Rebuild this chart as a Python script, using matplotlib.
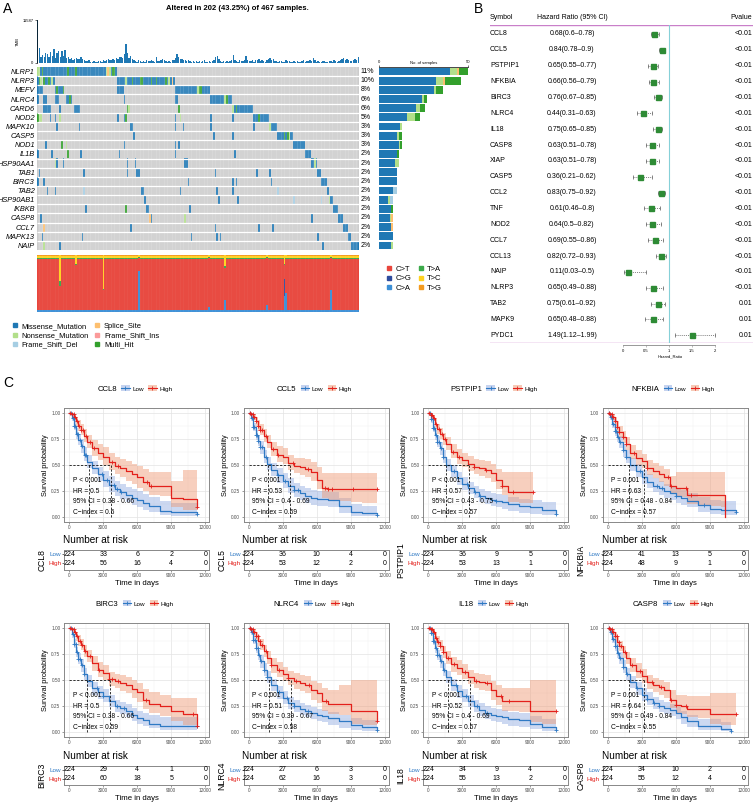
import numpy as np
import matplotlib
matplotlib.use('Agg')
import matplotlib.pyplot as plt
from matplotlib.colors import ListedColormap
from matplotlib.patches import Patch
from matplotlib.lines import Line2D

plt.rcParams['font.family'] = ['Liberation Sans', 'DejaVu Sans']

# ---------------- data: panel A (oncoplot) ----------------
GENES = ['NLRP1', 'NLRP3', 'MEFV', 'NLRC4', 'CARD6', 'NOD2', 'MAPK10', 'CASP5', 'NOD1', 'IL1B',
         'HSP90AA1', 'TAB1', 'BIRC3', 'TAB2', 'HSP90AB1', 'IKBKB', 'CASP8', 'CCL7', 'MAPK13', 'NAIP']
PCT = ['11%', '10%', '8%', '6%', '6%', '5%', '3%', '3%', '3%', '2%',
       '2%', '2%', '2%', '2%', '2%', '2%', '2%', '2%', '2%', '2%']
BLOCK = [50, 36, 22, 14, 13, 10, 5, 10, 7, 4, 4, 2, 4, 1, 3, 3, 3, 3, 2, 5]
EXTRA_COLS = {
    'NLRP3': [0, 1, 2, 4, 5, 6, 7, 8, 9, 10],
    'MEFV': [0, 1, 2, 3, 11, 12, 13, 14, 15, 16, 50, 51, 52, 53],
    'NLRC4': [0, 4, 5, 11, 12, 13, 18, 19, 20, 21, 54, 86, 87],
    'CARD6': [4, 5, 6, 7, 8, 14, 23, 24, 25, 26, 56, 57, 88],
    'NOD2': [0, 1, 2, 8, 11, 14, 50, 54, 55, 86, 89, 108, 122],
    'MAPK10': [12, 26, 58, 59, 86, 91, 108, 135],
    'CASP5': [60, 110, 122],
    'NOD1': [5, 15, 18, 54, 86, 88],
    'IL1B': [0, 9, 19, 27, 51, 86, 123],
    'HSP90AA1': [11, 12, 16, 56, 61, 92, 93],
    'TAB1': [1, 29, 56, 62, 63, 111, 137, 145],
    'BIRC3': [0, 4, 94, 122, 124, 146],
    'TAB2': [6, 11, 29, 65, 66, 89, 112, 122, 150],
    'HSP90AB1': [67, 113, 125, 160, 177],
    'IKBKB': [30, 55, 68, 69, 95],
    'CASP8': [2, 70, 71, 92, 171],
    'CCL7': [4, 58, 111, 138, 147],
    'MAPK13': [3, 28, 96, 112, 114, 175],
    'NAIP': [4, 14, 178],
}
NONSENSE = {'NLRP1': [0, 1, 43, 45], 'NLRP3': [2, 9, 55, 82], 'MEFV': [100], 'NLRC4': [117],
            'CARD6': [57, 122], 'NOD2': [1, 2, 14, 89], 'MAPK10': [145], 'CASP5': [157],
            'NOD1': [18], 'HSP90AA1': [11, 173], 'HSP90AB1': [182], 'CASP8': [92], 'NAIP': [4]}
FS_DEL = {'TAB2': [29, 150], 'HSP90AB1': [160, 177]}
SPLICE = {'NLRP1': [44], 'NLRP3': [84], 'CASP8': [70], 'CCL7': [4]}
MULTI_HIT = {'NLRP1': [3, 19, 24, 47, 48], 'NLRP3': [1, 4, 7, 59, 64, 65, 71, 74, 80],
             'MEFV': [12, 16, 101, 102], 'NLRC4': [20, 118], 'CARD6': [56, 88, 124],
             'NOD2': [0, 55, 138], 'CASP5': [154, 156], 'NOD1': [15], 'IL1B': [19], 'IKBKB': [55]}

TMB = [11587, 4000, 1700, 2200, 1500, 2700, 2300, 1600, 2900, 1900,
       3700, 1400, 2600, 3200, 1600, 3100, 2000, 3400, 1300, 1700,
       1000, 1400, 900, 1200, 1400, 1100, 1200, 1500, 1100, 800,
       600, 500, 700, 400, 300, 500, 400, 300, 500, 600,
       400, 700, 500, 800, 1200, 900, 700, 1000, 800, 1400,
       1200, 1500, 1700, 1300, 2300, 5200, 2700, 1300, 1800, 1200,
       700, 500, 400, 800, 600, 400, 500, 300, 700, 600,
       500, 800, 600, 400, 1500, 600, 500, 800, 1100, 900,
       600, 400, 500, 300, 700, 900, 1400, 2400, 1500, 1000,
       1200, 800, 700, 600, 900, 500, 400, 600, 300, 500,
       400, 600, 300, 500, 700, 400, 300, 500, 400, 600,
       700, 1600, 1900, 1200, 500, 400, 600, 300, 500, 400,
       600, 900, 2100, 800, 500, 400, 700, 600, 500, 900,
       2000, 700, 500, 600, 800, 400, 900, 700, 1000, 600,
       800, 500, 400, 700, 1100, 1300, 900, 1000, 600, 500,
       400, 600, 500, 300, 400, 700, 500, 600, 400, 300,
       500, 400, 600, 300, 400, 500, 700, 400, 600, 500,
       800, 600, 1300, 700, 400, 500, 300, 400, 600, 500,
       400, 300, 500, 600, 400, 700, 500, 400, 600, 800,
       1000, 1300, 900, 1200, 700, 600, 500, 800, 1100, 900,
       1500]

TITV_CLASSES = ['C>A', 'C>G', 'C>T', 'T>A', 'T>C', 'T>G']
TITV_DEFAULT = [0.03, 0.005, 0.895, 0.02, 0.04, 0.01]
TITV_SPECIAL = {
    14: [0.03, 0.0, 0.42, 0.10, 0.45, 0.0],
    24: [0.03, 0.0, 0.80, 0.02, 0.15, 0.0],
    41: [0.03, 0.0, 0.35, 0.02, 0.60, 0.0],
    63: [0.72, 0.0, 0.23, 0.02, 0.03, 0.0],
    107: [0.09, 0.0, 0.85, 0.02, 0.04, 0.0],
    117: [0.21, 0.0, 0.57, 0.02, 0.20, 0.0],
    143: [0.12, 0.0, 0.82, 0.02, 0.04, 0.0],
    154: [0.28, 0.30, 0.25, 0.02, 0.15, 0.0],
    155: [0.33, 0.0, 0.60, 0.02, 0.05, 0.0],
    183: [0.39, 0.0, 0.55, 0.02, 0.04, 0.0],
}

# ---------------- data: panel B (forest) ----------------
FOREST_GENES = ['CCL8', 'CCL5', 'PSTPIP1', 'NFKBIA', 'BIRC3', 'NLRC4', 'IL18', 'CASP8', 'XIAP', 'CASP5',
                'CCL2', 'TNF', 'NOD2', 'CCL7', 'CCL13', 'NAIP', 'NLRP3', 'TAB2', 'MAPK9', 'PYDC1']
HR = [0.68, 0.84, 0.65, 0.66, 0.76, 0.44, 0.75, 0.63, 0.63, 0.36,
      0.83, 0.61, 0.64, 0.69, 0.82, 0.11, 0.65, 0.75, 0.65, 1.49]
HR_LO = [0.6, 0.78, 0.55, 0.56, 0.67, 0.31, 0.65, 0.51, 0.51, 0.21,
         0.75, 0.46, 0.5, 0.55, 0.72, 0.03, 0.49, 0.61, 0.48, 1.12]
HR_HI = [0.78, 0.9, 0.77, 0.79, 0.85, 0.63, 0.85, 0.78, 0.78, 0.62,
         0.92, 0.8, 0.82, 0.86, 0.93, 0.5, 0.88, 0.92, 0.88, 1.99]
PVAL = ['<0.01'] * 17 + ['0.01', '0.01', '0.01']

# ---------------- data: panel C (Kaplan-Meier) ----------------
KM_GENES = ['CCL8', 'CCL5', 'PSTPIP1', 'NFKBIA', 'BIRC3', 'NLRC4', 'IL18', 'CASP8']
T_GRID = [0, 200, 400, 600, 800, 1000, 1300, 1600, 2000, 2500, 3000,
          3500, 4000, 4500, 5000, 5500, 6000, 6500, 7000, 8000, 9000, 10000]

SURV_LOW = {
    'CCL8': [1.0, 0.95, 0.88, 0.80, 0.74, 0.68, 0.60, 0.53, 0.47, 0.41, 0.36, 0.31, 0.27, 0.24, 0.21, 0.18, 0.16, 0.13, 0.10, 0.06, 0.05, 0.05],
    'CCL5': [1.0, 0.95, 0.87, 0.79, 0.73, 0.67, 0.58, 0.51, 0.45, 0.40, 0.35, 0.30, 0.26, 0.23, 0.20, 0.18, 0.17, 0.17, 0.16, 0.10, 0.05, 0.04],
    'PSTPIP1': [1.0, 0.94, 0.86, 0.79, 0.72, 0.66, 0.58, 0.50, 0.44, 0.37, 0.32, 0.28, 0.24, 0.20, 0.18, 0.16, 0.15, 0.14, 0.12, 0.10, 0.09, 0.07],
    'NFKBIA': [1.0, 0.96, 0.90, 0.83, 0.77, 0.72, 0.64, 0.58, 0.50, 0.44, 0.38, 0.34, 0.30, 0.28, 0.25, 0.23, 0.20, 0.18, 0.15, 0.11, 0.08, 0.07],
    'BIRC3': [1.0, 0.94, 0.85, 0.77, 0.70, 0.64, 0.56, 0.49, 0.42, 0.38, 0.35, 0.30, 0.25, 0.23, 0.20, 0.16, 0.13, 0.11, 0.08, 0.06, 0.06, 0.06],
    'NLRC4': [1.0, 0.96, 0.89, 0.81, 0.74, 0.68, 0.60, 0.53, 0.45, 0.38, 0.33, 0.28, 0.25, 0.22, 0.20, 0.18, 0.16, 0.15, 0.13, 0.10, 0.07, 0.05],
    'IL18': [1.0, 0.95, 0.88, 0.81, 0.74, 0.68, 0.60, 0.53, 0.45, 0.39, 0.35, 0.30, 0.25, 0.21, 0.18, 0.16, 0.15, 0.14, 0.12, 0.11, 0.08, 0.05],
    'CASP8': [1.0, 0.96, 0.90, 0.83, 0.76, 0.71, 0.63, 0.56, 0.48, 0.42, 0.36, 0.32, 0.28, 0.25, 0.23, 0.21, 0.18, 0.14, 0.10, 0.06, 0.06, 0.03],
}
LO_LOW = {
    'CCL8': [1.0, 0.92, 0.84, 0.75, 0.69, 0.62, 0.54, 0.47, 0.41, 0.35, 0.29, 0.24, 0.20, 0.17, 0.14, 0.11, 0.09, 0.07, 0.05, 0.02, 0.01, 0.01],
    'CCL5': [1.0, 0.92, 0.83, 0.74, 0.68, 0.61, 0.52, 0.45, 0.39, 0.33, 0.28, 0.23, 0.19, 0.16, 0.13, 0.11, 0.10, 0.10, 0.09, 0.04, 0.01, 0.01],
    'PSTPIP1': [1.0, 0.91, 0.82, 0.74, 0.67, 0.60, 0.52, 0.44, 0.38, 0.31, 0.26, 0.22, 0.18, 0.14, 0.12, 0.10, 0.09, 0.08, 0.06, 0.04, 0.03, 0.02],
    'NFKBIA': [1.0, 0.93, 0.86, 0.78, 0.72, 0.66, 0.58, 0.52, 0.44, 0.38, 0.32, 0.28, 0.24, 0.21, 0.18, 0.16, 0.13, 0.11, 0.09, 0.05, 0.03, 0.02],
    'BIRC3': [1.0, 0.91, 0.81, 0.72, 0.65, 0.58, 0.50, 0.43, 0.36, 0.32, 0.29, 0.24, 0.19, 0.17, 0.14, 0.10, 0.08, 0.06, 0.04, 0.02, 0.02, 0.02],
    'NLRC4': [1.0, 0.93, 0.85, 0.76, 0.69, 0.62, 0.54, 0.47, 0.39, 0.32, 0.27, 0.22, 0.19, 0.16, 0.14, 0.12, 0.10, 0.09, 0.07, 0.04, 0.02, 0.01],
    'IL18': [1.0, 0.92, 0.84, 0.76, 0.69, 0.62, 0.54, 0.47, 0.39, 0.33, 0.29, 0.24, 0.19, 0.15, 0.12, 0.10, 0.09, 0.08, 0.06, 0.05, 0.03, 0.01],
    'CASP8': [1.0, 0.93, 0.86, 0.78, 0.71, 0.65, 0.57, 0.50, 0.42, 0.36, 0.30, 0.26, 0.22, 0.19, 0.17, 0.15, 0.12, 0.08, 0.05, 0.02, 0.02, 0.01],
}
HI_LOW = {
    'CCL8': [1.0, 0.98, 0.93, 0.86, 0.80, 0.75, 0.67, 0.60, 0.54, 0.48, 0.44, 0.39, 0.35, 0.32, 0.29, 0.27, 0.25, 0.22, 0.19, 0.15, 0.13, 0.13],
    'CCL5': [1.0, 0.98, 0.91, 0.84, 0.79, 0.73, 0.64, 0.58, 0.52, 0.47, 0.42, 0.37, 0.33, 0.30, 0.28, 0.26, 0.25, 0.25, 0.24, 0.18, 0.12, 0.10],
    'PSTPIP1': [1.0, 0.97, 0.90, 0.84, 0.78, 0.72, 0.64, 0.56, 0.50, 0.43, 0.38, 0.34, 0.30, 0.27, 0.25, 0.23, 0.22, 0.21, 0.19, 0.17, 0.16, 0.14],
    'NFKBIA': [1.0, 0.99, 0.94, 0.88, 0.82, 0.78, 0.70, 0.64, 0.57, 0.51, 0.45, 0.41, 0.37, 0.35, 0.32, 0.30, 0.28, 0.26, 0.23, 0.19, 0.16, 0.15],
    'BIRC3': [1.0, 0.97, 0.90, 0.82, 0.76, 0.70, 0.62, 0.55, 0.48, 0.44, 0.41, 0.36, 0.31, 0.29, 0.27, 0.23, 0.20, 0.18, 0.16, 0.14, 0.14, 0.14],
    'NLRC4': [1.0, 0.99, 0.93, 0.86, 0.79, 0.74, 0.66, 0.59, 0.51, 0.44, 0.39, 0.34, 0.31, 0.28, 0.26, 0.24, 0.22, 0.21, 0.19, 0.16, 0.13, 0.11],
    'IL18': [1.0, 0.98, 0.92, 0.86, 0.79, 0.74, 0.66, 0.59, 0.51, 0.45, 0.41, 0.36, 0.31, 0.28, 0.25, 0.23, 0.22, 0.21, 0.19, 0.18, 0.15, 0.12],
    'CASP8': [1.0, 0.99, 0.94, 0.88, 0.81, 0.77, 0.69, 0.62, 0.54, 0.48, 0.42, 0.38, 0.34, 0.31, 0.29, 0.27, 0.24, 0.20, 0.16, 0.12, 0.12, 0.09],
}
SURV_HIGH = {
    'CCL8': [1.0, 0.99, 0.96, 0.92, 0.88, 0.84, 0.78, 0.72, 0.66, 0.62, 0.58, 0.53, 0.49, 0.47, 0.44, 0.41, 0.38, 0.34, 0.30, 0.30, 0.18, 0.17],
    'CCL5': [1.0, 0.99, 0.96, 0.92, 0.88, 0.84, 0.78, 0.72, 0.65, 0.60, 0.58, 0.52, 0.49, 0.48, 0.46, 0.43, 0.36, 0.28, 0.27, 0.27, 0.27, 0.27],
    'PSTPIP1': [1.0, 0.98, 0.95, 0.90, 0.85, 0.80, 0.75, 0.70, 0.63, 0.58, 0.55, 0.51, 0.48, 0.47, 0.45, 0.42, 0.36, 0.30, 0.24, 0.24, 0.24, 0.24],
    'NFKBIA': [1.0, 0.99, 0.96, 0.92, 0.87, 0.82, 0.77, 0.70, 0.62, 0.57, 0.54, 0.47, 0.44, 0.41, 0.38, 0.30, 0.28, 0.28, 0.21, 0.21, 0.21, 0.21],
    'BIRC3': [1.0, 0.99, 0.96, 0.92, 0.88, 0.84, 0.78, 0.73, 0.66, 0.60, 0.57, 0.51, 0.49, 0.47, 0.45, 0.41, 0.38, 0.31, 0.27, 0.25, 0.20, 0.17],
    'NLRC4': [1.0, 0.99, 0.96, 0.92, 0.88, 0.84, 0.78, 0.71, 0.64, 0.60, 0.56, 0.52, 0.49, 0.47, 0.45, 0.40, 0.37, 0.30, 0.27, 0.27, 0.20, 0.20],
    'IL18': [1.0, 0.99, 0.96, 0.91, 0.87, 0.83, 0.77, 0.71, 0.65, 0.62, 0.58, 0.53, 0.49, 0.48, 0.47, 0.40, 0.35, 0.30, 0.30, 0.30, 0.20, 0.20],
    'CASP8': [1.0, 0.99, 0.96, 0.92, 0.87, 0.83, 0.77, 0.71, 0.64, 0.59, 0.54, 0.48, 0.45, 0.43, 0.40, 0.31, 0.26, 0.25, 0.22, 0.22, 0.17, 0.17],
}
LO_HIGH = {
    'CCL8': [1.0, 0.97, 0.93, 0.88, 0.83, 0.79, 0.72, 0.66, 0.59, 0.55, 0.50, 0.45, 0.41, 0.38, 0.35, 0.32, 0.28, 0.25, 0.21, 0.20, 0.09, 0.07],
    'CCL5': [1.0, 0.97, 0.93, 0.88, 0.83, 0.79, 0.72, 0.66, 0.59, 0.53, 0.51, 0.45, 0.42, 0.40, 0.38, 0.35, 0.27, 0.18, 0.16, 0.15, 0.14, 0.13],
    'PSTPIP1': [1.0, 0.96, 0.92, 0.86, 0.80, 0.75, 0.69, 0.64, 0.57, 0.51, 0.48, 0.44, 0.41, 0.39, 0.37, 0.34, 0.27, 0.21, 0.14, 0.13, 0.13, 0.13],
    'NFKBIA': [1.0, 0.97, 0.93, 0.88, 0.82, 0.77, 0.71, 0.64, 0.56, 0.50, 0.47, 0.40, 0.37, 0.34, 0.30, 0.22, 0.19, 0.19, 0.12, 0.11, 0.10, 0.09],
    'BIRC3': [1.0, 0.97, 0.93, 0.88, 0.83, 0.79, 0.72, 0.67, 0.59, 0.53, 0.50, 0.44, 0.42, 0.39, 0.37, 0.33, 0.29, 0.22, 0.18, 0.15, 0.10, 0.07],
    'NLRC4': [1.0, 0.97, 0.93, 0.88, 0.83, 0.79, 0.72, 0.65, 0.57, 0.53, 0.49, 0.45, 0.41, 0.39, 0.37, 0.31, 0.28, 0.20, 0.17, 0.16, 0.08, 0.07],
    'IL18': [1.0, 0.97, 0.93, 0.87, 0.82, 0.78, 0.71, 0.65, 0.58, 0.55, 0.51, 0.46, 0.42, 0.40, 0.39, 0.31, 0.26, 0.20, 0.20, 0.19, 0.09, 0.08],
    'CASP8': [1.0, 0.97, 0.93, 0.88, 0.82, 0.78, 0.71, 0.65, 0.58, 0.52, 0.47, 0.41, 0.38, 0.36, 0.33, 0.23, 0.18, 0.17, 0.14, 0.13, 0.08, 0.07],
}
HI_HIGH = {
    'CCL8': [1.0, 1.0, 0.99, 0.96, 0.93, 0.90, 0.85, 0.79, 0.74, 0.70, 0.67, 0.62, 0.58, 0.56, 0.54, 0.51, 0.49, 0.46, 0.43, 0.43, 0.35, 0.45],
    'CCL5': [1.0, 1.0, 0.99, 0.96, 0.93, 0.90, 0.85, 0.79, 0.72, 0.68, 0.66, 0.60, 0.57, 0.57, 0.56, 0.53, 0.48, 0.42, 0.42, 0.42, 0.42, 0.42],
    'PSTPIP1': [1.0, 1.0, 0.98, 0.94, 0.90, 0.86, 0.81, 0.77, 0.70, 0.65, 0.62, 0.59, 0.56, 0.55, 0.54, 0.51, 0.46, 0.43, 0.43, 0.43, 0.43, 0.43],
    'NFKBIA': [1.0, 1.0, 0.99, 0.96, 0.92, 0.88, 0.83, 0.77, 0.69, 0.64, 0.61, 0.55, 0.52, 0.49, 0.46, 0.39, 0.43, 0.43, 0.43, 0.43, 0.43, 0.43],
    'BIRC3': [1.0, 1.0, 0.99, 0.96, 0.93, 0.90, 0.84, 0.79, 0.73, 0.67, 0.64, 0.58, 0.56, 0.55, 0.53, 0.50, 0.47, 0.41, 0.38, 0.36, 0.33, 0.33],
    'NLRC4': [1.0, 1.0, 0.99, 0.96, 0.93, 0.90, 0.84, 0.78, 0.71, 0.67, 0.63, 0.59, 0.57, 0.55, 0.54, 0.49, 0.47, 0.42, 0.40, 0.45, 0.50, 0.50],
    'IL18': [1.0, 1.0, 0.99, 0.95, 0.92, 0.89, 0.83, 0.78, 0.72, 0.69, 0.65, 0.60, 0.57, 0.56, 0.55, 0.49, 0.45, 0.42, 0.42, 0.42, 0.50, 0.50],
    'CASP8': [1.0, 1.0, 0.99, 0.96, 0.92, 0.88, 0.83, 0.77, 0.71, 0.66, 0.61, 0.55, 0.52, 0.50, 0.48, 0.40, 0.36, 0.36, 0.35, 0.35, 0.37, 0.37],
}
END_LOW = {'CCL8': (11300, 0.03), 'CCL5': (11300, 0.02), 'PSTPIP1': (11300, 0.03), 'NFKBIA': (11300, 0.05),
           'BIRC3': (11300, 0.06), 'NLRC4': (11300, 0.02), 'IL18': (11300, 0.02), 'CASP8': (10900, 0.01)}
END_HIGH = {'CCL8': (11300, 0.09), 'CCL5': (11300, 0.27), 'PSTPIP1': (9200, 0.24), 'NFKBIA': (10300, 0.0),
            'BIRC3': (11300, 0.06), 'NLRC4': (11300, 0.10), 'IL18': (11300, 0.20), 'CASP8': (11300, 0.17)}
CENSOR_LOW = {
    'CCL8': [150, 300, 420, 520, 650, 780, 900, 1100, 1350, 1500, 2900, 3300, 3900, 4200, 4600, 11300],
    'CCL5': [120, 260, 400, 480, 600, 700, 850, 1000, 1200, 1500, 2600, 3200, 4000, 4300, 11300],
    'PSTPIP1': [130, 280, 400, 520, 650, 800, 950, 1100, 1300, 2300, 3400, 4100, 4600, 6000, 11300],
    'NFKBIA': [110, 250, 380, 500, 620, 760, 900, 1100, 1300, 1600, 2800, 4300, 4800, 6000, 8500, 11300],
    'BIRC3': [150, 300, 420, 550, 680, 800, 950, 1100, 1300, 2400, 3000, 4200, 4800, 11300],
    'NLRC4': [120, 260, 400, 520, 640, 780, 920, 1100, 1300, 1600, 2700, 3400, 4000, 5200, 11300],
    'IL18': [130, 270, 400, 530, 660, 800, 950, 1100, 1400, 2400, 3300, 4300, 5200, 11300],
    'CASP8': [120, 250, 380, 500, 630, 770, 900, 1100, 1300, 1700, 2600, 3500, 4100, 4500, 10900],
}
CENSOR_HIGH = {
    'CCL8': [100, 250, 380, 500, 700, 850, 1000, 1250, 1500, 1800, 2200, 3800, 4300, 6900, 7200, 11300],
    'CCL5': [100, 200, 350, 480, 650, 800, 1000, 1200, 1500, 2100, 2600, 3900, 5200, 6700, 7000, 7300, 9200, 11300],
    'PSTPIP1': [90, 220, 350, 500, 700, 900, 1200, 1500, 2200, 2700, 4000, 5100, 6500, 7500, 9200],
    'NFKBIA': [80, 200, 330, 470, 600, 800, 1000, 1300, 1600, 2300, 3500, 5300, 5600, 6900, 7300],
    'BIRC3': [100, 230, 380, 500, 700, 900, 1100, 1400, 1800, 2600, 3500, 3800, 4300, 6800, 10900, 11300],
    'NLRC4': [90, 210, 340, 480, 620, 780, 950, 1200, 1500, 2000, 2700, 3500, 4200, 5300, 6800, 11300],
    'IL18': [100, 220, 360, 500, 680, 850, 1050, 1300, 1700, 2300, 3200, 4200, 5200, 6400, 7100, 11300],
    'CASP8': [80, 200, 340, 480, 620, 780, 950, 1200, 1500, 2100, 2800, 3900, 4700, 5600, 6000, 6900, 11300],
}
MEDIAN_LOW = {'CCL8': 1750, 'CCL5': 1650, 'PSTPIP1': 1600, 'NFKBIA': 1900,
              'BIRC3': 1550, 'NLRC4': 1750, 'IL18': 1750, 'CASP8': 1850}
MEDIAN_HIGH = {'CCL8': 3700, 'CCL5': 3600, 'PSTPIP1': 3600, 'NFKBIA': 3200,
               'BIRC3': 3600, 'NLRC4': 3700, 'IL18': 3700, 'CASP8': 3200}
P_TEXT = ['P < 0.001', 'P < 0.001', 'P < 0.001', 'P = 0.001', 'P < 0.001', 'P < 0.001', 'P < 0.001', 'P = 0.001']
HR_TEXT = ['0.5', '0.53', '0.57', '0.63', '0.5', '0.51', '0.52', '0.64']
CI_TEXT = ['0.38 - 0.66', '0.4 - 0.69', '0.43 - 0.75', '0.48 - 0.84',
           '0.38 - 0.66', '0.39 - 0.67', '0.4 - 0.69', '0.49 - 0.84']
CINDEX_TEXT = ['0.6', '0.59', '0.57', '0.57', '0.59', '0.58', '0.57', '0.55']
RISK_TIMES = [0, 3000, 6000, 9000, 12000]
RISK_LOW = {'CCL8': [224, 33, 6, 2, 0], 'CCL5': [224, 36, 10, 4, 0], 'PSTPIP1': [224, 36, 9, 5, 0],
            'NFKBIA': [224, 41, 13, 5, 0], 'BIRC3': [224, 29, 4, 1, 0], 'NLRC4': [224, 27, 6, 3, 0],
            'IL18': [224, 34, 9, 4, 0], 'CASP8': [224, 34, 10, 2, 0]}
RISK_HIGH = {'CCL8': [224, 56, 16, 4, 0], 'CCL5': [224, 53, 12, 2, 0], 'PSTPIP1': [224, 53, 13, 1, 0],
             'NFKBIA': [224, 48, 9, 1, 0], 'BIRC3': [224, 60, 18, 5, 0], 'NLRC4': [224, 62, 16, 3, 0],
             'IL18': [224, 55, 13, 2, 0], 'CASP8': [224, 55, 12, 4, 0]}

# ---------------- styles ----------------
VC_NAMES = ['Missense_Mutation', 'Nonsense_Mutation', 'Frame_Shift_Del', 'Splice_Site', 'Frame_Shift_Ins', 'Multi_Hit']
VC_COLORS = ['#1F78B4', '#B2DF8A', '#A6CEE3', '#FDBF6F', '#FB9A99', '#33A02C']
TITV_COLORS = ['#3C8FD6', '#2E4C9E', '#E8453C', '#3BAA4A', '#FFD21F', '#F39A1E']
LOW_COL, HIGH_COL = '#2F79C4', '#E3201B'
LOW_FILL, HIGH_FILL = '#8FA9E0', '#EE9670'

W, H = 753, 806
fig = plt.figure(figsize=(W / 100, H / 100), dpi=100)


def px_axes(left, top, width, height):
    return fig.add_axes([left / W, 1 - (top + height) / H, width / W, height / H])


def ftext(x, y, s, **kw):
    return fig.text(x / W, 1 - y / H, s, **kw)


ftext(3, 9, 'A', fontsize=10, va='center')
ftext(474, 9, 'B', fontsize=10, va='center')
ftext(3, 383, 'C', fontsize=10, va='center')

# ================= Panel A =================
N = sum(BLOCK)
mat = np.zeros((len(GENES), N), dtype=int)
start = 0
for r, g in enumerate(GENES):
    mat[r, start:start + BLOCK[r]] = 1
    start += BLOCK[r]
    for c in EXTRA_COLS.get(g, []):
        mat[r, c] = 1
    for code, d in [(2, NONSENSE), (3, FS_DEL), (4, SPLICE), (6, MULTI_HIT)]:
        for c in d.get(g, []):
            mat[r, c] = code

ftext(237, 8, 'Altered in 202 (43.25%) of 467 samples.', fontsize=5.5, fontweight='bold',
      ha='center', va='center')

# TMB bars
ax_tmb = px_axes(37, 20, 322, 43)
ax_tmb.bar(np.arange(N) + 0.5, TMB, width=0.85, color=VC_COLORS[0], lw=0)
ax_tmb.set_xlim(0, N)
ax_tmb.set_ylim(0, max(TMB))
ax_tmb.set_xticks([])
ax_tmb.set_yticks([0, max(TMB)], ['0', str(max(TMB))])
ax_tmb.tick_params(axis='y', labelsize=3, length=1.5, width=0.4, pad=1)
ax_tmb.set_ylabel('TMB', fontsize=3, labelpad=2)
for s in ['top', 'right', 'bottom']:
    ax_tmb.spines[s].set_visible(False)
ax_tmb.spines['left'].set_linewidth(0.5)

# mutation matrix
ax_m = px_axes(37, 67, 322, 183)
cmap = ListedColormap(['#CCCCCC'] + VC_COLORS[:1] + [VC_COLORS[1], VC_COLORS[2], VC_COLORS[3], VC_COLORS[4], VC_COLORS[5]])
ax_m.imshow(mat, cmap=cmap, vmin=-0.5, vmax=6.5, aspect='auto', interpolation='nearest',
            extent=(0, N, len(GENES), 0))
ax_m.vlines(np.arange(1, N), 0, len(GENES), color='white', lw=0.25, alpha=0.7)
ax_m.hlines(np.arange(1, len(GENES)), 0, N, color='white', lw=0.9)
ax_m.set_xlim(0, N)
ax_m.set_ylim(len(GENES), 0)
ax_m.set_xticks([])
ax_m.set_yticks(np.arange(len(GENES)) + 0.5, GENES, fontstyle='italic', fontsize=5.3)
ax_m.tick_params(axis='y', length=0, pad=1.5)
for s in ax_m.spines.values():
    s.set_visible(False)
for r, p in enumerate(PCT):
    ax_m.text(N + 0.8, r + 0.5, p, fontsize=5, va='center', ha='left')

# right bar of counts
ax_b = px_axes(379, 67, 89, 183)
counts = np.array([[np.sum(mat[r] == code) for code in [1, 2, 3, 4, 5, 6]] for r in range(len(GENES))])
left = np.zeros(len(GENES))
for k in range(6):
    ax_b.barh(np.arange(len(GENES)) + 0.5, counts[:, k], left=left, height=0.85,
              color=VC_COLORS[k], lw=0)
    left += counts[:, k]
ax_b.set_xlim(0, 50)
ax_b.set_ylim(len(GENES), 0)
ax_b.set_yticks([])
ax_b.xaxis.tick_top()
ax_b.xaxis.set_label_position('top')
ax_b.set_xticks([0, 50])
ax_b.tick_params(axis='x', labelsize=3, length=1.5, width=0.4, pad=1)
ax_b.set_xlabel('No. of samples', fontsize=3, labelpad=-3)
for s in ['bottom', 'left', 'right']:
    ax_b.spines[s].set_visible(False)
ax_b.spines['top'].set_linewidth(0.5)

# Ti/Tv stacked bars
ax_t = px_axes(37, 255, 322, 57)
fracs = np.array([TITV_SPECIAL.get(c, TITV_DEFAULT) for c in range(N)], dtype=float)
fracs = fracs / fracs.sum(axis=1, keepdims=True)
bottom = np.zeros(N)
for k in range(6):
    ax_t.bar(np.arange(N) + 0.5, fracs[:, k], bottom=bottom, width=1.0, color=TITV_COLORS[k], lw=0)
    bottom += fracs[:, k]
ax_t.vlines(np.arange(1, N), 0, 1, color='white', lw=0.15, alpha=0.35)
ax_t.set_xlim(0, N)
ax_t.set_ylim(0, 1)
ax_t.axis('off')

# legends panel A
titv_order = [2, 1, 0, 3, 4, 5]
th = [Line2D([], [], ls='none', marker='s', ms=2.6, color=TITV_COLORS[k]) for k in titv_order]
fig.legend(th, [TITV_CLASSES[k] for k in titv_order], loc='upper left',
           bbox_to_anchor=(383 / W, 1 - 262 / H), ncol=2, frameon=False, fontsize=5.5,
           handlelength=0.6, handletextpad=0.5, columnspacing=1.0, labelspacing=0.25, borderpad=0)
vh = [Line2D([], [], ls='none', marker='s', ms=2.6, color=VC_COLORS[k]) for k in [0, 1, 2, 3, 4, 5]]
fig.legend(vh, VC_NAMES, loc='upper left', bbox_to_anchor=(9 / W, 1 - 319 / H), ncol=2,
           frameon=False, fontsize=5.4, handlelength=0.6, handletextpad=0.6, columnspacing=0.8,
           labelspacing=0.25, borderpad=0)

# ================= Panel B =================
row_px = 15.86
top_px, bot_px = 25, 343
ylim_b = ((bot_px - 34) / row_px, (top_px - 34) / row_px)
ax_tab = px_axes(490, top_px, 263, bot_px - top_px)
ax_tab.set_xlim(0, 1)
ax_tab.set_ylim(*ylim_b)
ax_tab.axis('off')
hdr_y = (18 - 34) / row_px
ax_tab.text(0, hdr_y, 'Symbol', fontsize=5, va='center', ha='left', clip_on=False)
ax_tab.text(0.312, hdr_y, 'Hazard Ratio (95% CI)', fontsize=5, va='center', ha='center', clip_on=False)
ax_tab.text(0.997, hdr_y, 'Pvalue', fontsize=5, va='center', ha='right', clip_on=False)
for i, g in enumerate(FOREST_GENES):
    ax_tab.text(0, i, g, fontsize=5, va='center', ha='left')
    ax_tab.text(0.312, i, f'{HR[i]:g}({HR_LO[i]:g}\u2013{HR_HI[i]:g})', fontsize=5, va='center', ha='center')
    ax_tab.text(0.997, i, PVAL[i], fontsize=5, va='center', ha='right')
ax_tab.axhline(ylim_b[1], color='#C97FC9', lw=1.0)
ax_tab.axhline(ylim_b[0], color='#C97FC9', lw=1.0)

ax_f = px_axes(600, top_px, 140, bot_px - top_px)
ax_f.set_xlim((600 - 623) / 46, (740 - 623) / 46)
ax_f.set_ylim(*ylim_b)
ax_f.patch.set_alpha(0)
ax_f.axvline(1, color='#86D0D8', lw=0.8)
for i in range(len(FOREST_GENES)):
    ax_f.plot([HR_LO[i], HR_HI[i]], [i, i], color='#555555', lw=0.5, ls=(0, (1.5, 1.5)))
    ax_f.plot([HR_LO[i], HR_HI[i]], [i, i], ls='none', marker='|', ms=2.5, mew=0.5, color='#555555')
    ax_f.plot([HR[i]], [i], ls='none', marker='s', ms=3.6, color='#2E8B35')
for s in ['top', 'right', 'left']:
    ax_f.spines[s].set_visible(False)
ax_f.spines['bottom'].set_bounds(0, 2)
ax_f.spines['bottom'].set_color('#888888')
ax_f.spines['bottom'].set_linewidth(0.6)
ax_f.spines['bottom'].set_position(('outward', 1.5))
ax_f.set_yticks([])
ax_f.set_xticks([0, 0.5, 1, 1.5, 2], ['0', '0.5', '1', '1.5', '2'])
ax_f.tick_params(axis='x', labelsize=3, length=1.5, width=0.4, pad=1, color='#888888')
ax_f.set_xlabel('Hazard_Ratio', fontsize=3, labelpad=1)

# ================= Panel C =================


def km_curve(vals, end):
    t = [x for x in T_GRID if x < end[0]] + [end[0]]
    s = list(vals[:len(t) - 1]) + [end[1]]
    return np.array(t, dtype=float), np.array(s)


def km_band(vals, end):
    t = [x for x in T_GRID if x < end[0]] + [end[0]]
    s = list(vals[:len(t) - 1])
    s = s + [s[-1]]
    return np.array(s)


for k, g in enumerate(KM_GENES):
    row, col = divmod(k, 4)
    L = 64 + 179.5 * col
    mtop = 408 if row == 0 else 623
    rtop = 550 if row == 0 else 766
    nar_y = 540 if row == 0 else 756

    ax = px_axes(L, mtop, 145, 114)
    ax.set_xlim(-470, 12330)
    ax.set_ylim(-0.05, 1.05)
    ax.set_xticks([0, 3000, 6000, 9000, 12000])
    ax.set_xticks([1500, 4500, 7500, 10500], minor=True)
    ax.set_yticks([0, 0.25, 0.5, 0.75, 1.0], ['0.00', '0.25', '0.50', '0.75', '1.00'])
    ax.set_yticks([0.125, 0.375, 0.625, 0.875], minor=True)
    ax.grid(which='major', color='#E3E3E3', lw=0.5)
    ax.grid(which='minor', color='#F0F0F0', lw=0.35)
    ax.set_axisbelow(True)
    ax.tick_params(which='both', labelsize=3.4, length=1.5, width=0.4, pad=1, colors='#4D4D4D')
    ax.tick_params(which='minor', length=0)
    for s in ax.spines.values():
        s.set_color('#888888')
        s.set_linewidth(0.7)
    ax.set_ylabel('Survival probability', fontsize=5.3, labelpad=1.5)

    groups = [(SURV_LOW, LO_LOW, HI_LOW, END_LOW, CENSOR_LOW, LOW_COL, LOW_FILL),
              (SURV_HIGH, LO_HIGH, HI_HIGH, END_HIGH, CENSOR_HIGH, HIGH_COL, HIGH_FILL)]
    for surv, lo, hi, end, cens, c, fc in groups:
        t, s = km_curve(surv[g], end[g])
        lo_v = km_band(lo[g], end[g])
        hi_v = km_band(hi[g], end[g])
        ax.fill_between(t, lo_v, hi_v, step='post', color=fc, alpha=0.45, lw=0)
        ax.step(t, s, where='post', color=c, lw=0.9)
        ct = np.array(cens[g], dtype=float)
        cy = s[np.searchsorted(t, ct, side='right') - 1]
        ax.plot(ct, cy, ls='none', marker='+', ms=3, mew=0.6, color=c)

    ml, mh = MEDIAN_LOW[g], MEDIAN_HIGH[g]
    ax.plot([0, max(ml, mh)], [0.5, 0.5], color='black', lw=0.55, ls=(0, (3, 2)))
    for m in (ml, mh):
        ax.plot([m, m], [0, 0.5], color='black', lw=0.55, ls=(0, (3, 2)))

    for yy, txt in zip([0.35, 0.245, 0.145, 0.045],
                       [P_TEXT[k], 'HR = ' + HR_TEXT[k], '95% CI = ' + CI_TEXT[k], 'C\u2212index = ' + CINDEX_TEXT[k]]):
        ax.text(300, yy, txt, fontsize=4.8, va='center', ha='left')

    h_low = (Patch(facecolor=LOW_FILL, alpha=0.5, edgecolor='none'),
             Line2D([], [], color=LOW_COL, lw=0.8, marker='+', ms=3, mew=0.6))
    h_high = (Patch(facecolor=HIGH_FILL, alpha=0.5, edgecolor='none'),
              Line2D([], [], color=HIGH_COL, lw=0.8, marker='+', ms=3, mew=0.6))
    leg = ax.legend([Line2D([], [], alpha=0), h_low, h_high], [g, 'Low', 'High'], ncol=3,
                    loc='center', bbox_to_anchor=(0.45, 1 + 19 / 114), frameon=False, fontsize=4.6,
                    handlelength=1.3, handleheight=1.0, handletextpad=0.4, columnspacing=0.7, borderpad=0)
    leg.get_texts()[0].set_fontsize(5.6)

    ftext(L - 1, nar_y, 'Number at risk', fontsize=7.2, va='center', ha='left')

    axr = px_axes(L, rtop, 145, 20 if row == 0 else 19)
    axr.set_xlim(-470, 12330)
    axr.set_ylim(-0.7, 1.45)
    for tx, nl, nh in zip(RISK_TIMES, RISK_LOW[g], RISK_HIGH[g]):
        axr.text(tx, 1, str(nl), fontsize=5, ha='center', va='center')
        axr.text(tx, 0, str(nh), fontsize=5, ha='center', va='center')
    axr.set_yticks([1, 0], ['Low', 'High'])
    for lab, c in zip(axr.get_yticklabels(), [LOW_COL, HIGH_COL]):
        lab.set_color(c)
    axr.set_xticks(RISK_TIMES)
    axr.tick_params(axis='x', labelsize=3.4, length=1.5, width=0.4, pad=1, colors='#4D4D4D')
    axr.tick_params(axis='y', labelsize=4.6, length=1.5, width=0.4, pad=0.5)
    axr.set_ylabel(g, fontsize=6.2, labelpad=1)
    axr.set_xlabel('Time in days', fontsize=5.6, labelpad=1)
    for s in axr.spines.values():
        s.set_color('#888888')
        s.set_linewidth(0.7)

fig.savefig('out.png', dpi=100)
